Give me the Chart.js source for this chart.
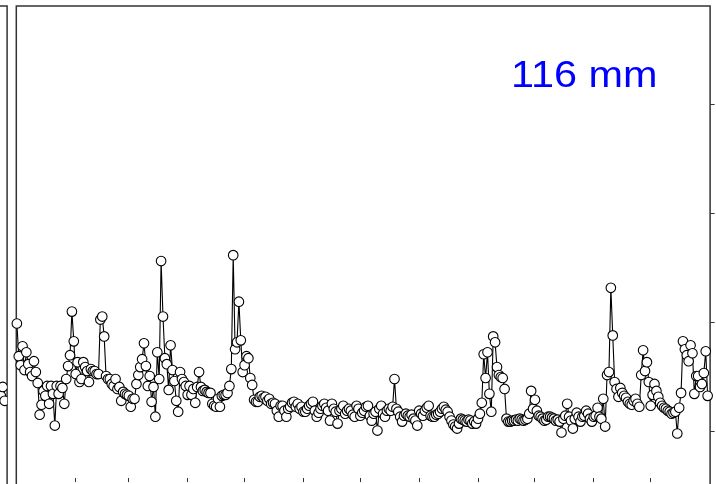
<!DOCTYPE html>
<html>
<head>
<meta charset="utf-8">
<script src="https://cdn.jsdelivr.net/npm/chart.js@4.4.1/dist/chart.umd.min.js"></script>
<style>
  html, body { margin: 0; padding: 0; background: #ffffff; overflow: hidden; width: 716px; height: 484px; }
  canvas { position: absolute; top: 0; }
  #main { left: 0; }
  #prev { left: -703px; }
</style>
</head>
<body>
<canvas id="prev" width="716" height="484"></canvas>
<canvas id="main" width="716" height="484"></canvas>
<script>
// ---- data (daily values, arbitrary units) ----
const janVals = [1.09,0.76,0.67,0.86,0.62,0.80,0.68,0.60,0.56,0.71,0.60,0.49,0.17,0.27,0.41,0.36,0.46,0.28,0.46,0.38,0.06,0.46,0.38,0.46,0.44,0.28,0.53,0.66,0.77,1.21,0.91];
const febVals = [0.58,0.70,0.50,0.53,0.70,0.65,0.61,0.50,0.63,0.61,0.61,0.58,0.58,1.13,1.16,0.96,0.56,0.53,0.53,0.48,0.46,0.53,0.43,0.45,0.31,0.40,0.38,0.37];
const marVals = [0.36,0.25,0.33,0.33,0.48,0.57,0.65,0.73,0.89,0.66,0.46,0.56,0.30,0.45,0.15,0.80,0.53,1.72,1.16,0.74,0.68,0.42,0.87,0.62,0.51,0.31,0.20,0.60,0.53,0.50,0.46];
const aprVals = [0.37,0.46,0.37,0.43,0.29,0.45,0.60,0.45,0.41,0.42,0.40,0.39,0.39,0.28,0.26,0.25,0.33,0.25,0.36,0.37,0.37,0.39,0.46,0.63,1.78,0.83,0.90,1.31,0.92,0.60];
const mayVals = [0.67,0.76,0.74,0.54,0.47,0.32,0.30,0.30,0.35,0.36,0.34,0.35,0.31,0.33,0.28,0.29,0.28,0.21,0.15,0.26,0.26,0.21,0.15,0.23,0.25,0.29,0.30,0.25,0.28,0.23,0.25];
const junVals = [0.20,0.20,0.23,0.26,0.28,0.30,0.21,0.15,0.19,0.23,0.26,0.28,0.24,0.21,0.11,0.28,0.23,0.20,0.08,0.21,0.23,0.26,0.18,0.21,0.23,0.21,0.17,0.15,0.26,0.23];
const julVals = [0.16,0.19,0.21,0.25,0.26,0.16,0.11,0.18,0.20,0.01,0.23,0.26,0.18,0.15,0.21,0.23,0.21,0.25,0.53,0.23,0.20,0.15,0.10,0.16,0.18,0.16,0.15,0.17,0.13,0.11,0.06];
const augVals = [0.21,0.18,0.16,0.21,0.24,0.26,0.16,0.15,0.15,0.17,0.18,0.20,0.23,0.25,0.22,0.20,0.15,0.11,0.07,0.05,0.03,0.08,0.13,0.12,0.11,0.10,0.12,0.11,0.08,0.10,0.08];
const sepVals = [0.13,0.18,0.29,0.78,0.54,0.80,0.38,0.20,0.96,0.90,0.65,0.57,0.55,0.54,0.43,0.13,0.10,0.10,0.11,0.11,0.12,0.11,0.13,0.12,0.11,0.12,0.13,0.18,0.41,0.23];
const octVals = [0.32,0.21,0.16,0.15,0.13,0.11,0.12,0.15,0.15,0.14,0.13,0.11,0.12,0.10,-0.01,0.13,0.16,0.28,0.15,0.11,0.03,0.13,0.19,0.15,0.10,0.15,0.16,0.21,0.18,0.13,0.10];
const novVals = [0.15,0.16,0.24,0.15,0.13,0.33,0.05,0.57,0.60,1.45,0.97,0.50,0.43,0.35,0.44,0.39,0.36,0.34,0.30,0.28,0.27,0.31,0.33,0.28,0.25,0.57,0.82,0.61,0.70,0.50];
const decVals = [0.26,0.37,0.48,0.41,0.35,0.29,0.26,0.24,0.23,0.21,0.20,0.18,0.19,0.20,-0.02,0.24,0.39,0.91,0.83,0.77,0.71,0.87,0.79,0.38,0.56,0.56,0.45,0.48,0.59,0.81,0.36];

// tail of the neighbouring (previous) panel, visible at the far left
const prevDays = [360, 361, 362, 363, 364];
const prevVals = [0.40, 0.40, 0.36, 0.45, 0.31];

const monthStartDays = [31, 59, 90, 120, 151, 181, 212, 243, 273, 304, 334];
const yTickValues = [0, 1.1, 2.2, 3.3];
const labelText = '116 mm';

const values = [].concat(janVals, febVals, marVals, aprVals, mayVals, junVals,
                         julVals, augVals, sepVals, octVals, novVals, decVals);
const days = values.map((_, i) => i);

const X_MIN = -0.3, X_MAX = 365.3, Y_MIN = -0.47, Y_MAX = 4.295;
const FRAME = '#333333';

function boxPlugin(showText) {
  return {
    id: 'box' + (showText ? 'Main' : 'Prev'),
    beforeDatasetsDraw(chart) {
      const { ctx, chartArea: a } = chart;
      ctx.save();
      ctx.strokeStyle = FRAME;
      ctx.lineWidth = 1.5;
      ctx.beginPath();
      ctx.moveTo(a.left, chart.height);
      ctx.lineTo(a.left, a.top);
      ctx.lineTo(a.right, a.top);
      ctx.lineTo(a.right, chart.height);
      ctx.stroke();
      ctx.restore();
    },
    afterDraw(chart) {
      if (!showText) return;
      const { ctx } = chart;
      ctx.save();
      ctx.translate(511, 87);
      ctx.scale(1.15, 1);
      ctx.font = '36px "Liberation Sans", Arial, sans-serif';
      ctx.fillStyle = '#0000ff';
      ctx.textBaseline = 'alphabetic';
      ctx.textAlign = 'left';
      ctx.fillText(labelText, 0, 0);
      ctx.restore();
    }
  };
}

function makeChart(id, xs, ys, showTicks) {
  const tickColor = showTicks ? FRAME : 'rgba(0,0,0,0)';
  return new Chart(document.getElementById(id), {
    type: 'line',
    data: {
      datasets: [{
        data: xs.map((x, i) => ({ x: x, y: ys[i] })),
        borderColor: '#000000',
        borderWidth: 1.1,
        pointRadius: 4.8,
        pointBorderWidth: 1.1,
        pointBorderColor: '#000000',
        pointBackgroundColor: '#ffffff',
        tension: 0,
        clip: showTicks ? false : undefined
      }]
    },
    options: {
      responsive: false,
      animation: false,
      devicePixelRatio: 1,
      layout: { padding: { left: 16.3, top: 3.5, right: 0, bottom: 0 } },
      plugins: { legend: { display: false }, tooltip: { enabled: false } },
      scales: {
        x: {
          type: 'linear',
          min: X_MIN, max: X_MAX,
          afterBuildTicks: (s) => { s.ticks = monthStartDays.map(v => ({ value: v })); },
          ticks: { display: false },
          border: { display: false },
          grid: { drawOnChartArea: false, drawTicks: true, tickLength: 4, color: tickColor, lineWidth: 1 }
        },
        y: {
          type: 'linear',
          position: 'right',
          min: Y_MIN, max: Y_MAX,
          afterBuildTicks: (s) => { s.ticks = yTickValues.map(v => ({ value: v })); },
          ticks: { display: false },
          border: { display: false },
          grid: { drawOnChartArea: false, drawTicks: true, tickLength: 4.5, color: tickColor, lineWidth: 1 }
        }
      }
    },
    plugins: [boxPlugin(showTicks)]
  });
}

makeChart('prev', prevDays, prevVals, false);
makeChart('main', days, values, true);
</script>
</body>
</html>
